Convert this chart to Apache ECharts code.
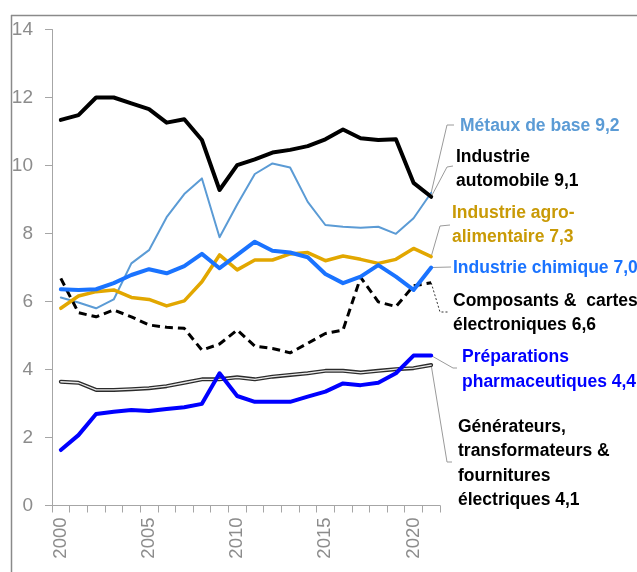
<!DOCTYPE html>
<html>
<head>
<meta charset="utf-8">
<script src="https://cdn.jsdelivr.net/npm/echarts@6/dist/echarts.min.js"></script>
<style>
html,body{margin:0;padding:0;background:#fff;}
#c{width:637px;height:572px;}
</style>
</head>
<body>
<div id="c"></div>
<script>
const years = ['2000','2001','2002','2003','2004','2005','2006','2007','2008','2009','2010','2011','2012','2013','2014','2015','2016','2017','2018','2019','2020','2021'];
const yTicks = [0, 2, 4, 6, 8, 10, 12, 14];

const metaux      = [6.12,5.97,5.80,6.06,7.12,7.51,8.48,9.16,9.62,7.89,8.85,9.75,10.06,9.94,8.93,8.25,8.20,8.17,8.20,7.99,8.45,9.20];
const automobile  = [11.34,11.48,12.00,12.00,11.83,11.66,11.26,11.36,10.75,9.28,10.01,10.18,10.38,10.46,10.57,10.77,11.06,10.80,10.75,10.77,9.49,9.08];
const agro        = [5.80,6.16,6.29,6.34,6.12,6.06,5.87,6.02,6.58,7.37,6.93,7.22,7.22,7.40,7.44,7.20,7.34,7.24,7.12,7.24,7.56,7.32];
const chimique    = [6.36,6.34,6.36,6.54,6.78,6.95,6.83,7.04,7.40,6.98,7.37,7.76,7.49,7.44,7.30,6.81,6.54,6.73,7.07,6.73,6.34,7.00];
const composants  = [6.68,5.67,5.55,5.75,5.55,5.31,5.24,5.21,4.57,4.75,5.16,4.69,4.62,4.49,4.77,5.06,5.16,6.71,5.99,5.85,6.46,6.55];
const pharma      = [1.63,2.07,2.69,2.76,2.81,2.78,2.84,2.89,2.99,3.89,3.22,3.05,3.05,3.05,3.20,3.35,3.59,3.54,3.61,3.89,4.41,4.41];
const generateurs = [3.64,3.61,3.40,3.40,3.42,3.45,3.51,3.61,3.71,3.71,3.77,3.71,3.79,3.84,3.89,3.96,3.96,3.91,3.96,4.01,4.04,4.13];

const labelTexts = {
  metaux: 'Métaux de base 9,2',
  automobile: 'Industrie\nautomobile 9,1',
  agro: 'Industrie agro-\nalimentaire 7,3',
  chimique: 'Industrie chimique 7,0',
  composants: 'Composants &  cartes\nélectroniques 6,6',
  pharma: 'Préparations\npharmaceutiques 4,4',
  generateurs: 'Générateurs,\ntransformateurs &\nfournitures\nélectriques 4,1'
};

const chart = echarts.init(document.getElementById('c'), null, {renderer: 'canvas'});
const FONT = '"Liberation Sans", Arial, sans-serif';

function line(name, data, color, width, extra) {
  return Object.assign({
    name, type: 'line', data, symbol: 'none', smooth: false,
    lineStyle: {color, width, cap: 'round', join: 'round'},
    emphasis: {disabled: true}, animation: false
  }, extra || {});
}

chart.setOption({
  animation: false,
  grid: {left: 52, right: 197, top: 29.5, bottom: 66.5},
  xAxis: {
    type: 'category', data: years, boundaryGap: true,
    axisLine: {lineStyle: {color: '#a6a6a6', width: 1}},
    axisTick: {show: true, interval: 0, length: 7, lineStyle: {color: '#a6a6a6'}},
    axisLabel: {interval: 4, rotate: 90, margin: 12, color: '#8c8c8c', fontSize: 18.5, fontFamily: FONT},
    splitLine: {show: false}
  },
  yAxis: {
    type: 'value', min: yTicks[0], max: yTicks[yTicks.length-1], interval: 2,
    axisLine: {show: true, lineStyle: {color: '#a6a6a6', width: 1}},
    axisTick: {show: true, length: 7, lineStyle: {color: '#a6a6a6'}},
    axisLabel: {margin: 19, color: '#8c8c8c', fontSize: 19, fontFamily: FONT},
    splitLine: {show: false}
  },
  series: [
    line('Métaux de base', metaux, '#5B9BD5', 2),
    line('Générateurs', generateurs, '#2b2b2b', 4),
    line('Générateurs2', generateurs, '#e8e8e8', 1.3),
    line('Composants', composants, '#000000', 3, {lineStyle: {color: '#000', width: 3, type: [8, 5]}}),
    line('Préparations pharmaceutiques', pharma, '#0000FF', 4),
    line('Industrie agro-alimentaire', agro, '#E2A700', 3.5),
    line('Industrie chimique', chimique, '#1A73FF', 4),
    line('Industrie automobile', automobile, '#000000', 4)
  ]
});

const last = years.length - 1;
function endPt(arr) { return chart.convertToPixel({gridIndex: 0}, [last, arr[last]]); }

const labels = [
  {key: 'metaux', data: metaux, color: '#5B9BD5', x: 460, y: 126, bend: [447, 125], end: [454, 125], dash: null, lc: '#9a9a9a'},
  {key: 'automobile', data: automobile, color: '#000000', x: 456, y: 169, bend: [447, 167], end: [453, 166], dash: null, lc: '#9a9a9a'},
  {key: 'agro', data: agro, color: '#C99A06', x: 452, y: 225, bend: [440, 226], end: [450, 225], dash: null, lc: '#9a9a9a'},
  {key: 'chimique', data: chimique, color: '#1A73FF', x: 453, y: 268, bend: null, end: [451, 267], dash: null, lc: '#9a9a9a'},
  {key: 'composants', data: composants, color: '#000000', x: 453, y: 313, bend: [440, 312], end: [448, 312], dash: [2, 2], lc: '#333333'},
  {key: 'pharma', data: pharma, color: '#0000FF', x: 462, y: 369.5, bend: [453, 368], end: [457, 368], dash: null, lc: '#9a9a9a'},
  {key: 'generateurs', data: generateurs, color: '#000000', x: 458, y: 463.5, bend: [447, 462], end: [452, 462], dash: null, lc: '#9a9a9a'}
];

const graphic = [
  {type: 'line', shape: {x1: 11.5, y1: 15, x2: 11.5, y2: 572}, style: {stroke: '#8a8a8a', lineWidth: 1.5}, silent: true},
  {type: 'line', shape: {x1: 11, y1: 15.5, x2: 637, y2: 15.5}, style: {stroke: '#8a8a8a', lineWidth: 1.5}, silent: true}
];
labels.forEach(l => {
  const p = endPt(l.data);
  const pts = [p];
  if (l.bend) pts.push(l.bend);
  pts.push(l.end);
  graphic.push({
    type: 'polyline', shape: {points: pts},
    style: {stroke: l.lc, lineWidth: 1, fill: null, lineDash: l.dash},
    silent: true, z: 1
  });
  graphic.push({
    type: 'text', x: l.x, y: l.y, silent: true, z: 10,
    style: {
      text: labelTexts[l.key], fill: l.color,
      font: 'bold 17.5px "Liberation Sans", Arial, sans-serif',
      lineHeight: 24.5, align: 'left', verticalAlign: 'middle'
    }
  });
});
chart.setOption({graphic});
</script>
</body>
</html>
